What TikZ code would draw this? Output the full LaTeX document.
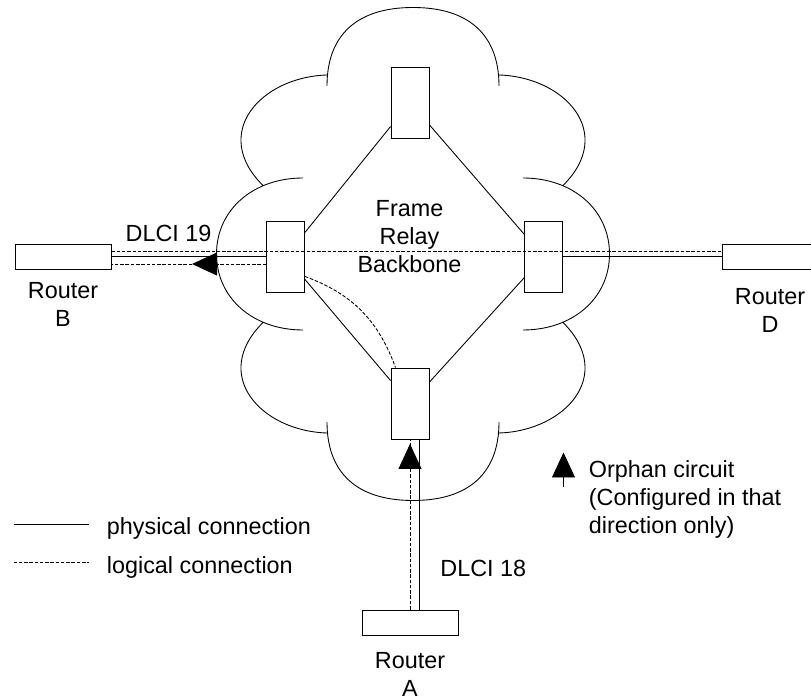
\documentclass[tikz,border=0pt]{standalone}
\usepackage{fontspec}
\setmainfont{Liberation Sans}
\usetikzlibrary{positioning, arrows.meta, decorations.markings}

\begin{document}
\begin{tikzpicture}[
    line width=0.5pt,
    >={Triangle[length=0.5cm, width=0.46cm]},
    every node/.style={
    font=\fontsize{13.3}{15.9}\selectfont,
    inner sep=0pt},
    switch/.style={draw, minimum width=0.76cm, minimum height=1.42cm},
    router/.style={draw, minimum width=1.92cm, minimum height=0.5cm},
    logical/.style={dash pattern=on 2pt off 1pt},
    orphan/.style={postaction={decorate,
        decoration={markings, mark=at position #1 with {\arrow{>}}}}}]

    \useasboundingbox (0,0) rectangle (16.22,14);

    % the cloud, one quarter mirrored four times
    \foreach \sx/\sy in {1/1,-1/1,1/-1,-1/-1} {
        \begin{scope}[shift={(8.26,8.92)}, xscale=\sx, yscale=\sy]
            \draw (0,4.93) .. controls (1.12,4.93) and (1.72,4.38) .. (1.72,3.36)
                  (1.72,3.58) .. controls (3.04,3.54) and (4.06,2.42) .. (3.0,1.37)
                  (2.2,1.52) .. controls (3.2,1.52) and (3.93,0.88) .. (3.93,0);
        \end{scope}
    }

    \node[switch] (swT) at (8.2,11.95) {};
    \node[switch] (swL) at (5.71,8.87) {};
    \node[switch] (swR) at (10.87,8.87) {};
    \node[switch] (swB) at (8.2,5.93) {};

    \node[router] (routerB) at (1.26,8.87) {};
    \node[router] (routerD) at (15.4,8.87) {};
    \node[router] (routerA) at (8.2,1.55) {};

    \node[below=0.25cm of routerB, align=center] (labelB) {Router\\B};
    \node[below=0.37cm of routerD, align=center] (labelD) {Router\\D};
    \node[below=0.33cm of routerA, align=center] (labelA) {Router\\A};

    \node[anchor=north, align=center] (backbone) at (8.19,10.0) {Frame\\Relay\\Backbone};
    \node[anchor=base] (dlci19) at (3.37,9.17) {DLCI 19};
    \node[anchor=base west] (dlci18) at (8.8,2.47) {DLCI 18};

    \draw (swT) -- (swL) -- (swB) -- (swR) -- (swT);
    \draw (routerB) -- (swL);
    \draw (swR) -- (routerD);
    \draw ([xshift=0.18cm]routerA.north) -- ([xshift=0.18cm]swB.south);

    \draw[logical] ([yshift=0.11cm]routerB.east) -- ([yshift=0.11cm]routerD.west);
    \draw[logical, orphan=1.48cm] ([yshift=-0.15cm]swL.west) -- ([yshift=-0.15cm]routerB.east);
    \draw[logical, orphan=-0.09cm] (routerA) -- (swB);
    \draw[logical] ([yshift=-0.4cm]swL.east) to[out=-20, in=110] ([xshift=-0.29cm]swB.north);

    % legend
    \coordinate (physA) at (0.27,3.52);
    \coordinate (logA) at (0.27,2.75);
    \draw (physA) -- ++(1.5,0);
    \draw[logical] (logA) -- ++(1.5,0);
    \node[anchor=base west] (phys) at (2.13,3.31) {physical connection};
    \node[anchor=base west] (log) at (2.13,2.53) {logical connection};

    \coordinate (orphanA) at (11.27,4.25);
    \coordinate (orphanB) at (11.27,4.95);
    \draw[->] (orphanA) -- (orphanB);
    \node[anchor=north west, align=left] (orphantext) at (11.77,4.8)
        {Orphan circuit\\(Configured in that\\direction only)};
\end{tikzpicture}
\end{document}
